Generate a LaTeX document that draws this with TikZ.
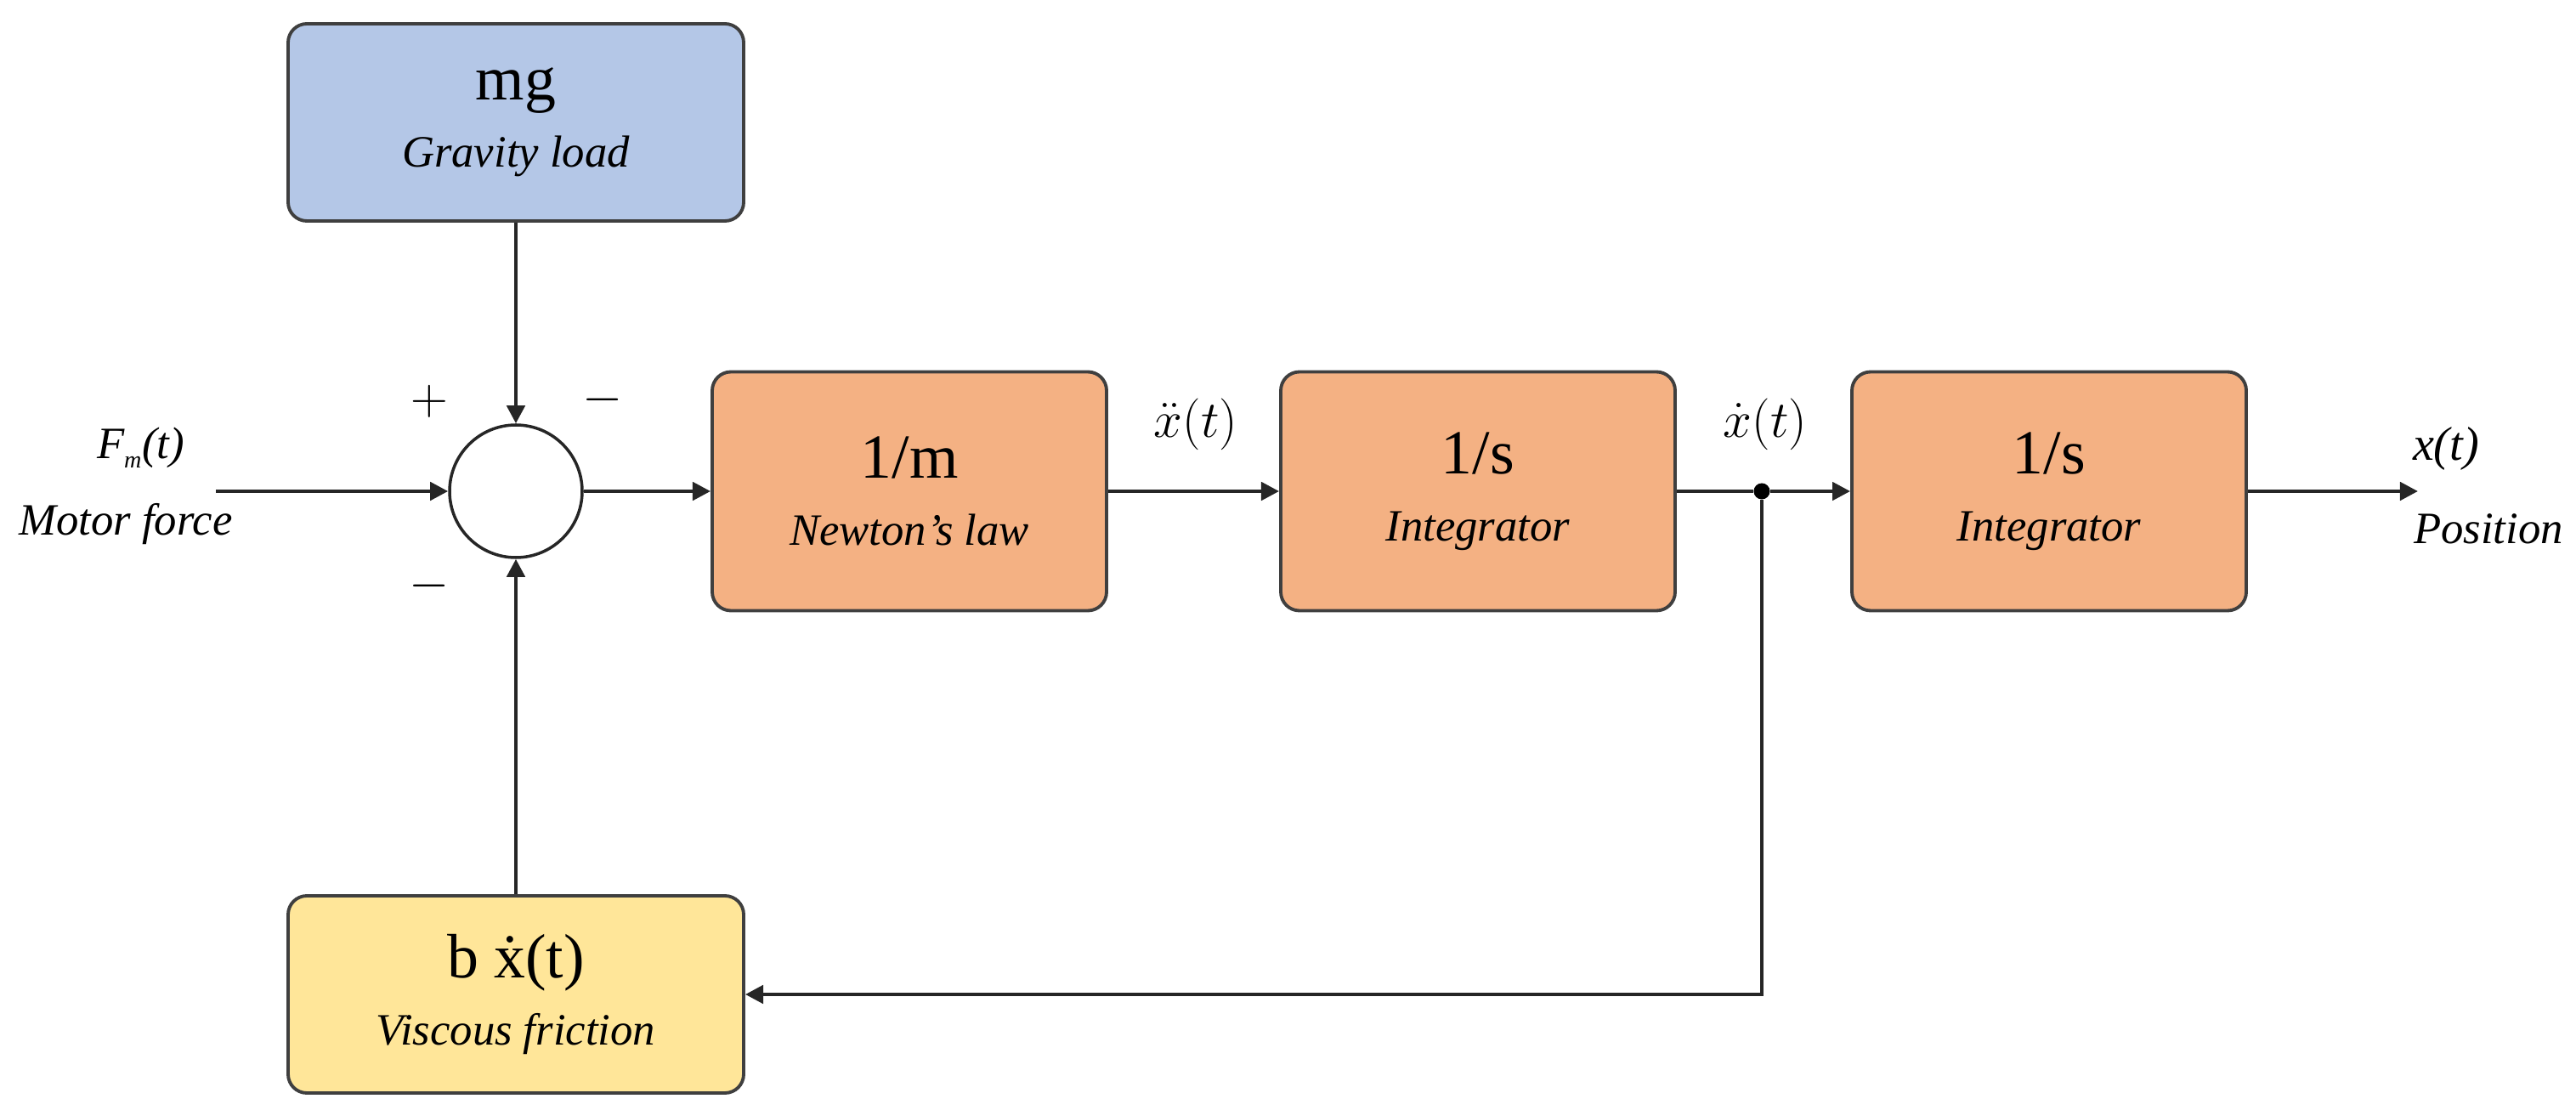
\documentclass[tikz,border=0pt]{standalone}
\usepackage{fontspec}
\setmainfont{Liberation Serif}
\usetikzlibrary{arrows.meta,positioning}
\definecolor{loadblue}{HTML}{B4C7E7}
\definecolor{lawsalmon}{HTML}{F4B183}
\definecolor{frictionyellow}{HTML}{FFE699}
\definecolor{edgegray}{HTML}{3F3F3F}
\newcommand{\blocknote}[1]{{\fontsize{15}{22.5}\selectfont\itshape #1}}

\begin{document}
\begin{tikzpicture}[every node/.style={font=\fontsize{15}{18}\selectfont},
  block/.style={draw=edgegray, line width=1.1pt, rounded corners=0.22cm, align=center,
    minimum width=4.64cm, minimum height=2.81cm, font=\fontsize{21}{22.5}\selectfont},
  sidebox/.style={block, minimum width=5.36cm, minimum height=2.32cm},
  flow/.style={-{Triangle[length=6pt,width=6pt]}, line width=1.3pt, draw=black!85},
  sign/.style={font=\fontsize{18}{18}\selectfont},
  sig/.style={anchor=base, inner sep=1pt, font=\fontsize{17}{17}\selectfont}]
  \useasboundingbox (0,0) rectangle (30.31,-13.06);
  \node[sidebox, fill=loadblue] (load) at (6.07,-1.44) {mg\\\blocknote{Gravity load}};
  \node[draw=black!85, circle, minimum size=1.56cm, line width=1pt, fill=white] (sum) at (6.07,-5.78) {};
  \foreach \n/\x/\a/\b in {newton/10.70/1\slash m/Newton's law, intv/17.39/1\slash s/Integrator, intx/24.11/1\slash s/Integrator}{
    \node[block, fill=lawsalmon] (\n) at (\x,-5.78) {\a\\\blocknote{\b}};
  }
  \node[sidebox, fill=frictionyellow] (friction) at (6.07,-11.70) {b \.x(t)\\\blocknote{Viscous friction}};
  \coordinate (force) at (2.54,-5.78);
  \coordinate (out) at (28.45,-5.78);
  \node[circle, fill=black, inner sep=0pt, minimum size=0.19cm] (split) at (20.73,-5.78) {};

  \draw[flow] (force) -- (sum);
  \draw[flow] (load) -- (sum);
  \draw[flow] (sum) -- (newton);
  \draw[flow] (newton) -- (intv);
  \draw[flow] (intv) -- (split) -- (intx);
  \draw[flow] (intx) -- (out);
  \draw[flow] (split) |- (friction);
  \draw[flow] (friction) -- (sum);

  \node[anchor=base] (fmlabel) at (1.66,-5.40) {\itshape F\kern-0.3pt\raisebox{-3pt}{\fontsize{8}{8}\selectfont m}\kern0.3pt(t)};
  \node[anchor=base] (fmnote) at (1.48,-6.30) {\itshape Motor force};
  \node[sig] (acc) at (14.07,-5.15) {$\ddot{x}(t)$};
  \node[sig] (vel) at (20.77,-5.15) {$\dot{x}(t)$};
  \node[sig, font=\fontsize{16}{16}\selectfont\itshape] (pos) at (28.78,-5.42) {x(t)};
  \node[anchor=base] (posnote) at (29.28,-6.40) {\itshape Position};
  \node[sign] (plus) at (5.05,-4.72) {$+$};
  \node[sign] (minusup) at (7.09,-4.70) {$-$};
  \node[sign] (minusdown) at (5.05,-6.89) {$-$};
\end{tikzpicture}
\end{document}
